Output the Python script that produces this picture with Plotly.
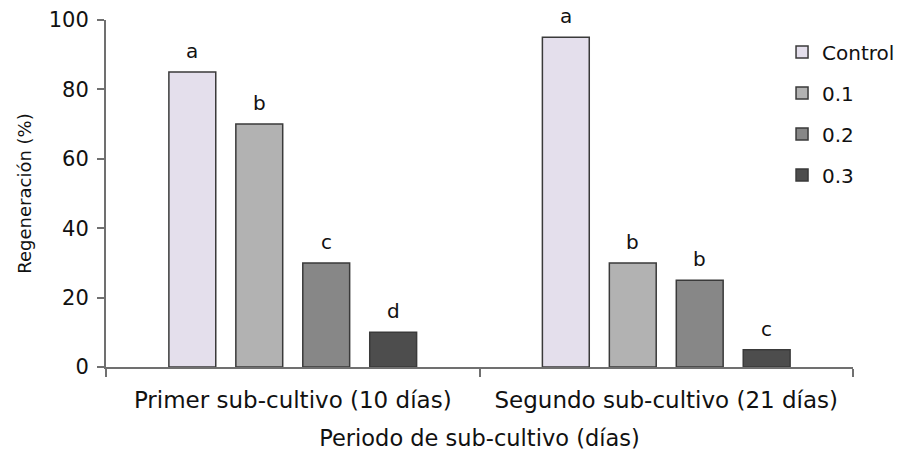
import plotly.graph_objects as go

categories = ["Primer sub-cultivo (10 días)", "Segundo sub-cultivo (21 días)"]
series_names = ["Control", "0.1", "0.2", "0.3"]
values = {
    "Control": [85, 95],
    "0.1": [70, 30],
    "0.2": [30, 25],
    "0.3": [10, 5],
}
letters = {
    "Control": ["a", "a"],
    "0.1": ["b", "b"],
    "0.2": ["c", "b"],
    "0.3": ["d", "c"],
}
colors = {
    "Control": "#E4DFEC",
    "0.1": "#B2B2B2",
    "0.2": "#878787",
    "0.3": "#4D4D4D",
}

FONT = "DejaVu Sans"
fig = go.Figure()
for name in series_names:
    fig.add_trace(go.Bar(
        x=categories, y=values[name], name=name, legendgroup=name,
        marker=dict(color=colors[name], line=dict(color="#3a3a3a", width=1.5)),
    ))

slot = 67
for j, name in enumerate(series_names):
    for i, cat in enumerate(categories):
        fig.add_annotation(
            x=cat, y=values[name][i], text=letters[name][i], showarrow=False,
            xref="x", yref="y", yanchor="bottom", yshift=7,
            xshift=(j - 1.5) * slot,
            font=dict(family=FONT, size=20, color="#111"),
        )

fig.update_layout(
    width=904, height=452,
    margin=dict(l=98, r=59, t=12, b=93, autoexpand=False),
    plot_bgcolor="white", paper_bgcolor="white",
    barmode="group", bargap=0.283, bargroupgap=0.3,
    font=dict(family=FONT, size=20, color="#111"),
    legend=dict(x=0.905, y=0.964, xanchor="left", yanchor="top",
                tracegroupgap=12, font=dict(size=20),
                bgcolor="rgba(0,0,0,0)"),
    xaxis=dict(
        automargin=False,
        showline=True, linecolor="#707070", linewidth=2,
        ticks="outside", tickson="boundaries", ticklen=8, tickcolor="#707070", tickwidth=2,
        tickfont=dict(size=23), ticklabelstandoff=11,
        title=dict(text="Periodo de sub-cultivo (días)", font=dict(size=22.5), standoff=19),
        showgrid=False,
    ),
    yaxis=dict(
        automargin=False,
        range=[0, 100], dtick=20,
        showline=True, linecolor="#707070", linewidth=2,
        ticks="outside", ticklen=7, tickcolor="#707070", tickwidth=2,
        tickfont=dict(size=21), ticklabelstandoff=4,
        title=dict(text="Regeneración (%)", font=dict(size=18), standoff=12),
        showgrid=False, zeroline=False,
    ),
)

fig.write_html("out.html")
